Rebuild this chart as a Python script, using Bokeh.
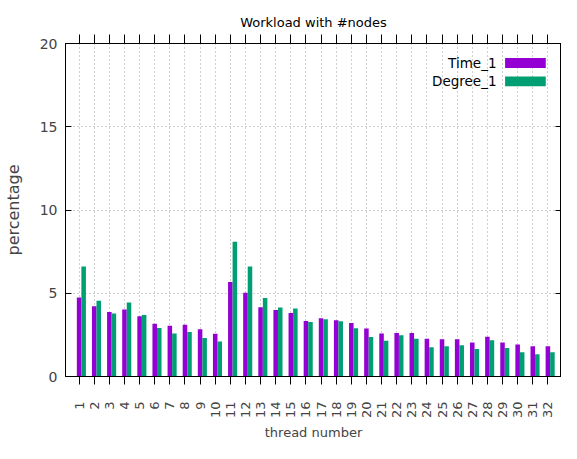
from bokeh.plotting import figure
from bokeh.models import (FactorRange, Range1d, LinearAxis, CategoricalAxis, FixedTicker,
                          Label, BoxAnnotation, ColumnDataSource)
from bokeh.transform import dodge
from bokeh.embed import file_html
from bokeh.resources import INLINE
from math import pi

threads = [str(i) for i in range(1, 33)]
time_1 = [4.74, 4.22, 3.87, 4.02, 3.62, 3.17, 3.05, 3.11, 2.84, 2.57, 5.68, 5.03, 4.16, 4.00,
          3.81, 3.33, 3.50, 3.38, 3.22, 2.88, 2.58, 2.62, 2.62, 2.26, 2.23, 2.23, 2.04, 2.39,
          2.04, 1.92, 1.81, 1.81]
degree_1 = [6.60, 4.55, 3.79, 4.45, 3.69, 2.92, 2.58, 2.68, 2.31, 2.10, 8.10, 6.60, 4.72, 4.14,
            4.08, 3.27, 3.44, 3.32, 2.90, 2.37, 2.14, 2.47, 2.27, 1.75, 1.81, 1.87, 1.65, 2.18,
            1.71, 1.46, 1.34, 1.46]
series_names = ["Time_1", "Degree_1"]
colors = ["#9400D3", "#009E73"]
y_ticks = [0, 5, 10, 15, 20]

FONT = "DejaVu Sans"

src = ColumnDataSource(dict(thread=threads, time=time_1, degree=degree_1))

p = figure(x_range=FactorRange(*threads, range_padding=0.4, range_padding_units="absolute"),
           y_range=Range1d(0, 20), width=561, height=443,
           output_backend="svg", toolbar_location=None,
           title="Workload with #nodes", x_axis_label="thread number",
           y_axis_label="percentage",
           min_border_left=0, min_border_right=0, min_border_top=43, min_border_bottom=0)

p.vbar(x=dodge("thread", 0.0, range=p.x_range), top="time", width=0.3, source=src,
       fill_color=colors[0], line_color=None)
p.vbar(x=dodge("thread", 0.3, range=p.x_range), top="degree", width=0.3, source=src,
       fill_color=colors[1], line_color=None)

p.title.text_font = FONT
p.title.text_font_style = "normal"
p.title.text_font_size = "13px"
p.title.align = "center"
p.title.text_color = "#000000"

p.outline_line_color = "black"
p.outline_line_width = 1
p.background_fill_color = "white"
p.border_fill_color = "white"

# grids
for g in (p.xgrid, p.ygrid):
    g.grid_line_color = "#a0a0a0"
    g.grid_line_dash = "1 3"
    g.grid_line_width = 1
p.ygrid.ticker = FixedTicker(ticks=y_ticks)

# y axis (left)
ya = p.yaxis[0]
ya.ticker = FixedTicker(ticks=y_ticks)
ya.major_tick_in = 6
ya.major_tick_out = 0
ya.minor_tick_line_color = None
ya.major_label_text_font = FONT
ya.major_label_text_font_size = "14px"
ya.major_label_standoff = 8
ya.axis_label_text_font = FONT
ya.axis_label_text_font_size = "16px"
ya.axis_label_text_font_style = "normal"
ya.axis_label_standoff = 14
ya.axis_line_color = "black"
ya.major_tick_line_color = "black"

# x axis (bottom)
xa = p.xaxis[0]
xa.major_tick_in = 0
xa.major_tick_out = 8
xa.major_label_orientation = pi / 2
xa.major_label_text_font = FONT
xa.major_label_text_font_size = "13px"
xa.major_label_standoff = 17
xa.axis_label_text_font = FONT
xa.axis_label_text_font_size = "13px"
xa.axis_label_text_font_style = "normal"
xa.axis_label_standoff = 4
xa.axis_line_color = "black"
xa.major_tick_line_color = "black"

# mirrored axes (ticks only)
ra = LinearAxis(ticker=FixedTicker(ticks=y_ticks), major_tick_in=6, major_tick_out=0,
                minor_tick_line_color=None, major_label_text_color=None,
                major_label_standoff=0, axis_line_color="black")
p.add_layout(ra, "right")
ta = CategoricalAxis(major_tick_in=0, major_tick_out=9, major_label_text_color=None,
                     major_label_standoff=0, axis_line_color="black")
p.add_layout(ta, "above")

# legend (gnuplot style: text left, swatch right)
legend_rows = [(18.83, 0.59), (17.73, 0.59)]
for name, col, (yc, h) in zip(series_names, colors, legend_rows):
    p.add_layout(Label(x=28.1, y=yc, text=name, text_align="right", text_baseline="middle",
                       text_font=FONT, text_font_size="13.5px", text_color="black"))
    p.add_layout(BoxAnnotation(left=28.67, right=31.36, bottom=yc - h / 2, top=yc + h / 2,
                               fill_color=col, fill_alpha=1.0, line_color=None))

open("out.html", "w").write(file_html(p, INLINE))
